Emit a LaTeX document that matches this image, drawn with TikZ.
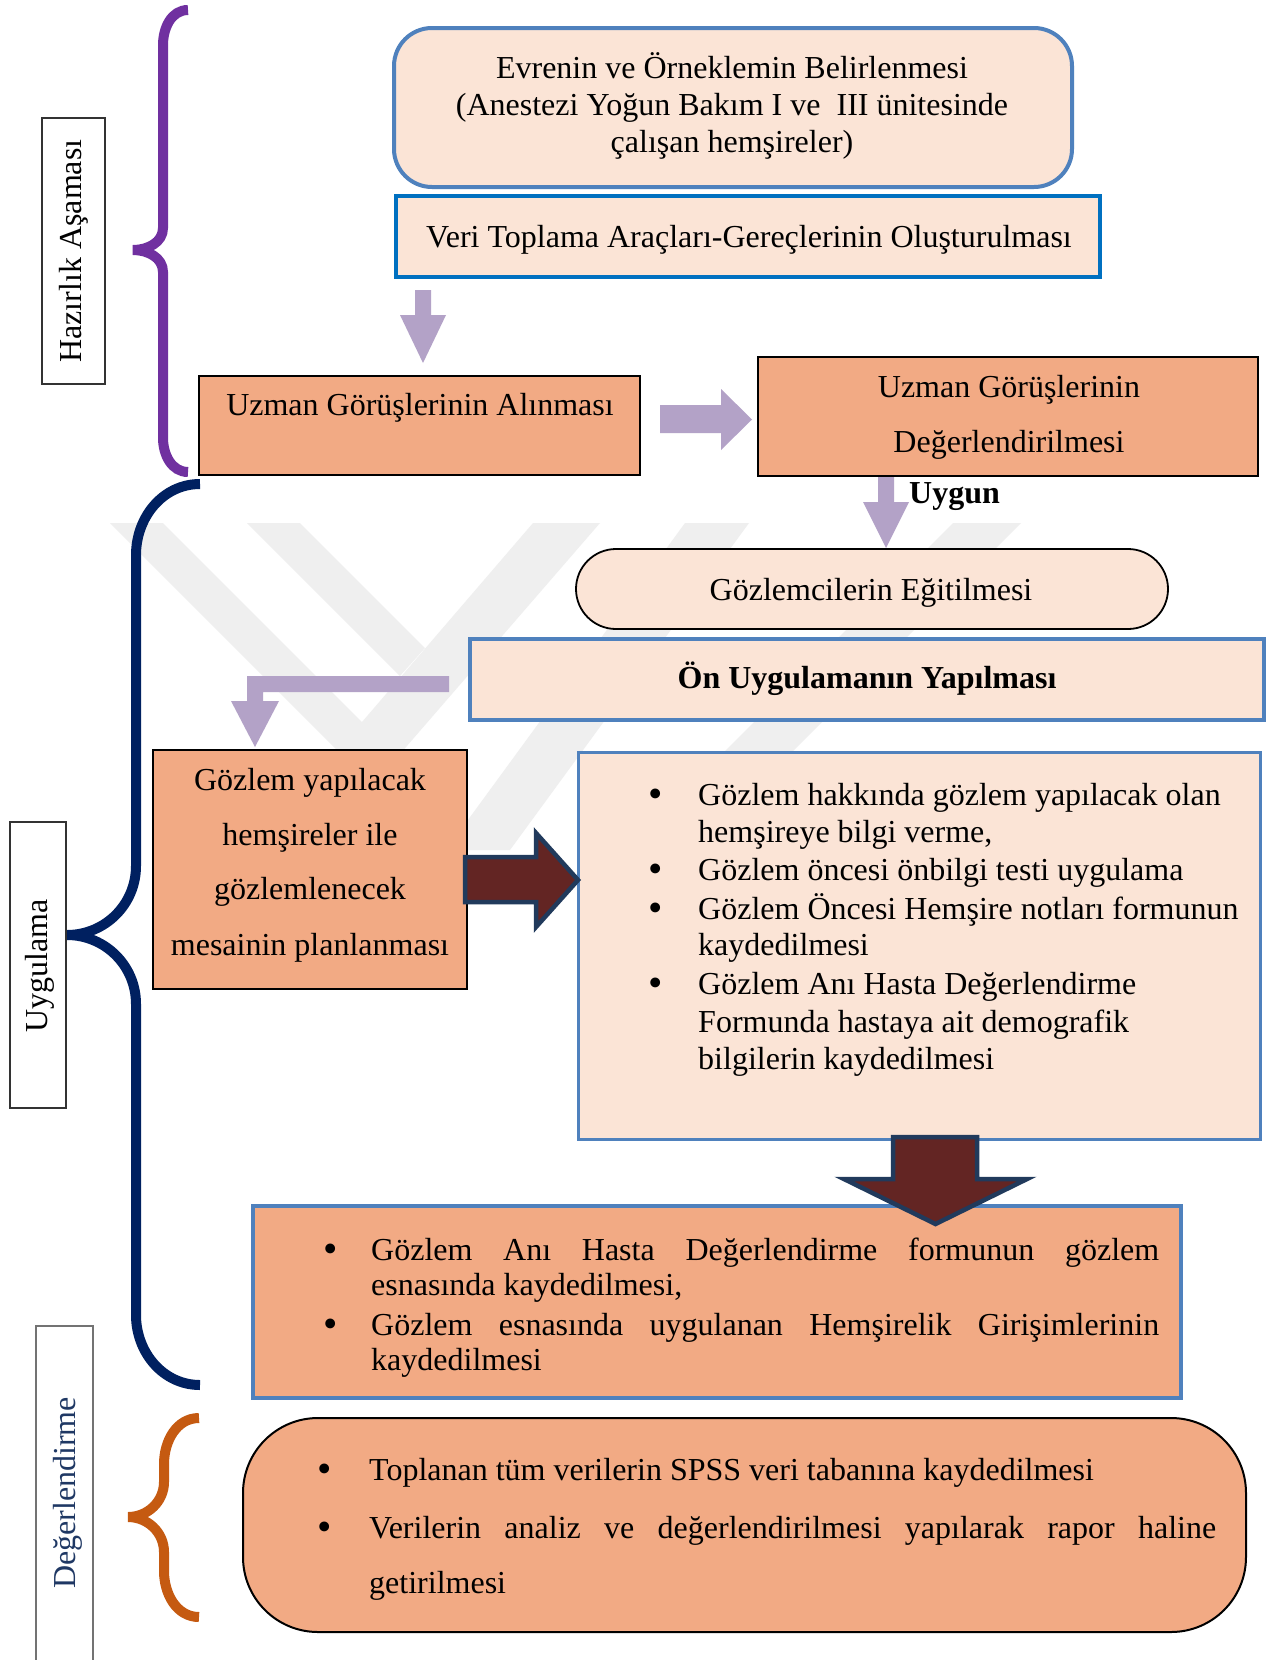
\documentclass[tikz,border=0pt]{standalone}
\usepackage{fontspec}
\setmainfont{Liberation Serif}
\usetikzlibrary{fit}
\definecolor{peach}{HTML}{FBE4D6}
\definecolor{salmon}{HTML}{F2AA84}
\definecolor{accblue}{HTML}{4F81BD}
\definecolor{brblue}{HTML}{0070C0}
\definecolor{lav}{HTML}{B3A2C7}
\definecolor{darkred}{HTML}{632523}
\definecolor{arrnavy}{HTML}{213A5C}
\definecolor{bracenavy}{HTML}{002060}
\definecolor{bracepurple}{HTML}{7030A0}
\definecolor{braceorange}{HTML}{C55A11}
\definecolor{wmgrey}{HTML}{EFEFEF}
\definecolor{labelblue}{HTML}{1F3864}
\newcommand\fsz{\fontsize{32}{37}\selectfont}
\begin{document}
\begin{tikzpicture}[x=1pt,y=-1pt,
  txt/.style={font=\fsz, inner sep=0pt, anchor=base},
  txtl/.style={font=\fsz, inner sep=0pt, anchor=base west},
  bul/.style={font=\fontsize{41}{41}\selectfont, inner sep=0pt, anchor=base},
  rect/.style={inner sep=0pt, outer sep=0pt},
  lightbox/.style={rect, fill=peach},
  darkbox/.style={rect, fill=salmon},
  labelbox/.style={rect, draw=black!80, line width=1.2pt, fill=white},
  lavarrow/.style={fill=lav},
  redarrow/.style={fill=darkred, draw=arrnavy, line width=4.5pt, line join=miter},
  bracestyle/.style={line width=10pt}
]
\useasboundingbox (0,0) rectangle (1267,1660);
\fill[white] (0,0) rectangle (1267,1660);

% watermark
\fill[wmgrey] (110,523) -- (163,523) -- (362,722) -- (533,523) -- (600,523) -- (372.6,785.6) -- cycle;
\fill[wmgrey] (247,523) -- (300,523) -- (425,648) -- (400,676) -- cycle;
\fill[wmgrey] (685,523) -- (749,523) -- (510,850) -- (446,850) -- cycle;
\fill[wmgrey] (953,523) -- (1021,523) -- (749,795) -- (681,795) -- cycle;

% braces
\draw[bracestyle, bracepurple] (188,10) to[out=180,in=90] (163,45) -- (163,228)
  to[out=-90,in=0] (133,250) to[out=0,in=90] (163,272) -- (163,438) to[out=-90,in=180] (188,472);
\draw[bracestyle, bracenavy] (200,484) to[out=180,in=90] (136,555) -- (136,866)
  to[out=-90,in=0] (67,935) to[out=0,in=90] (136,1004) -- (136,1315) to[out=-90,in=180] (200,1385);
\draw[bracestyle, braceorange] (199,1418) to[out=180,in=90] (164,1464) -- (164,1482)
  to[out=-90,in=0] (128,1517) to[out=0,in=90] (164,1552) -- (164,1571) to[out=-90,in=180] (199,1617);

% label boxes
\node[labelbox, fit={(42,118) (105,384)}] (lb1) {};
\node[font=\fsz, rotate=90, inner sep=0pt] (lt1) at (74,251) {Hazırlık Aşaması};
\node[labelbox, fit={(10,822) (66,1108)}] (lb2) {};
\node[font=\fsz, rotate=90, inner sep=0pt] (lt2) at (40,966) {Uygulama};
\node[labelbox, draw=black!55, fit={(36,1326) (93,1675)}] (lb3) {};
\node[font=\fsz, rotate=90, inner sep=0pt, text=labelblue] (lt3) at (68,1493) {Değerlendirme};

% boxes
\node[lightbox, draw=accblue, line width=4pt, rounded corners=38pt, fit={(394,28) (1072,187)}] (b1) {};
\node[lightbox, draw=brblue, line width=3.5pt, fit={(396,196) (1100,277)}] (b2) {};
\node[darkbox, draw=black, line width=2pt, fit={(199,376) (640,475)}] (b3) {};
\node[darkbox, draw=black, line width=2pt, fit={(758,357) (1258,476)}] (b4) {};
\node[lightbox, draw=black, line width=1.8pt, rounded corners=40pt, fit={(576,549) (1168,629)}] (b5) {};
\node[lightbox, draw=accblue, line width=3.5pt, fit={(470,639) (1264,720)}] (b6) {};
\node[darkbox, draw=black, line width=1.5pt, fit={(153,750) (467,989)}] (b7) {};
\node[lightbox, draw=accblue, line width=3pt, fit={(578,752) (1260,1139)}] (b8) {};
\node[darkbox, draw=accblue, line width=3.5pt, fit={(253,1206) (1181,1398)}] (b9) {};
\node[darkbox, draw=black, line width=2pt, rounded corners=75pt, fit={(243,1418) (1246,1632)}] (b10) {};

% block arrows
\fill[lavarrow] (415,290) -- (431,290) -- (431,315) -- (446,315) -- (423,363) -- (400,315) -- (415,315) -- cycle;
\fill[lavarrow] (660,405) -- (721,405) -- (721,389) -- (752,419.5) -- (721,450) -- (721,433) -- (660,433) -- cycle;
\fill[lavarrow] (878,477) -- (894,477) -- (894,502) -- (909,502) -- (886,548) -- (863,502) -- (878,502) -- cycle;
\fill[lavarrow] (449,676) -- (247,676) -- (247,701) -- (231,701) -- (255,747) -- (279,701) -- (263,701) -- (263,692) -- (449,692) -- cycle;
\filldraw[redarrow] (465,857) -- (536,857) -- (536,833) -- (578,880) -- (536,927) -- (536,902) -- (465,902) -- cycle;
\filldraw[redarrow] (893,1137) -- (977,1137) -- (977,1179) -- (1027,1179) -- (935.5,1224) -- (844,1179) -- (893,1179) -- cycle;

% texts
\node[txt] (t1a) at (732,78) {Evrenin ve Örneklemin Belirlenmesi};
\node[txt] (t1b) at (732,115) {(Anestezi Yoğun Bakım I ve\ \ III ünitesinde};
\node[txt] (t1c) at (732,152) {çalışan hemşireler)};
\node[txt] (t2) at (749,247) {Veri Toplama Araçları-Gereçlerinin Oluşturulması};
\node[txt] (t3) at (420,415) {Uzman Görüşlerinin Alınması};
\node[txt] (t4a) at (1009,397) {Uzman Görüşlerinin};
\node[txt] (t4b) at (1009,452) {Değerlendirilmesi};
\node[txtl, font=\fsz\bfseries] (uygun) at (909,503) {Uygun};
\node[txt] (t5) at (871,600) {Gözlemcilerin Eğitilmesi};
\node[txt, font=\fsz\bfseries] (t6) at (867,688) {Ön Uygulamanın Yapılması};
\node[txt] (t7a) at (310,790) {Gözlem yapılacak};
\node[txt] (t7b) at (310,845) {hemşireler ile};
\node[txt] (t7c) at (310,899) {gözlemlenecek};
\node[txt] (t7d) at (310,955) {mesainin planlanması};

\node[bul] (p1) at (656,807) {•};
\node[bul] (p2) at (656,882) {•};
\node[bul] (p3) at (656,921) {•};
\node[bul] (p4) at (656,996) {•};
\node[txtl] (t8a) at (698,805) {Gözlem hakkında gözlem yapılacak olan};
\node[txtl] (t8b) at (698,842) {hemşireye bilgi verme,};
\node[txtl] (t8c) at (698,880) {Gözlem öncesi önbilgi testi uygulama};
\node[txtl] (t8d) at (698,919) {Gözlem Öncesi Hemşire notları formunun};
\node[txtl] (t8e) at (698,955) {kaydedilmesi};
\node[txtl] (t8f) at (698,994) {Gözlem Anı Hasta Değerlendirme};
\node[txtl] (t8g) at (698,1032) {Formunda hastaya ait demografik};
\node[txtl] (t8h) at (698,1069) {bilgilerin kaydedilmesi};

\node[bul] (q1) at (331,1262) {•};
\node[bul] (q2) at (331,1337) {•};
\node[txtl] (t9a) at (371,1260) {\makebox[788pt][s]{Gözlem Anı Hasta Değerlendirme formunun gözlem}};
\node[txtl] (t9b) at (371,1295) {esnasında kaydedilmesi,};
\node[txtl] (t9c) at (371,1335) {\makebox[788pt][s]{Gözlem esnasında uygulanan Hemşirelik Girişimlerinin}};
\node[txtl] (t9d) at (371,1370) {kaydedilmesi};

\node[bul] (r1) at (325,1482) {•};
\node[bul] (r2) at (325,1540) {•};
\node[txtl] (t10a) at (369,1480) {Toplanan tüm verilerin SPSS veri tabanına kaydedilmesi};
\node[txtl] (t10b) at (369,1538) {\makebox[847pt][s]{Verilerin analiz ve değerlendirilmesi yapılarak rapor haline}};
\node[txtl] (t10c) at (369,1593) {getirilmesi};
\end{tikzpicture}
\end{document}
